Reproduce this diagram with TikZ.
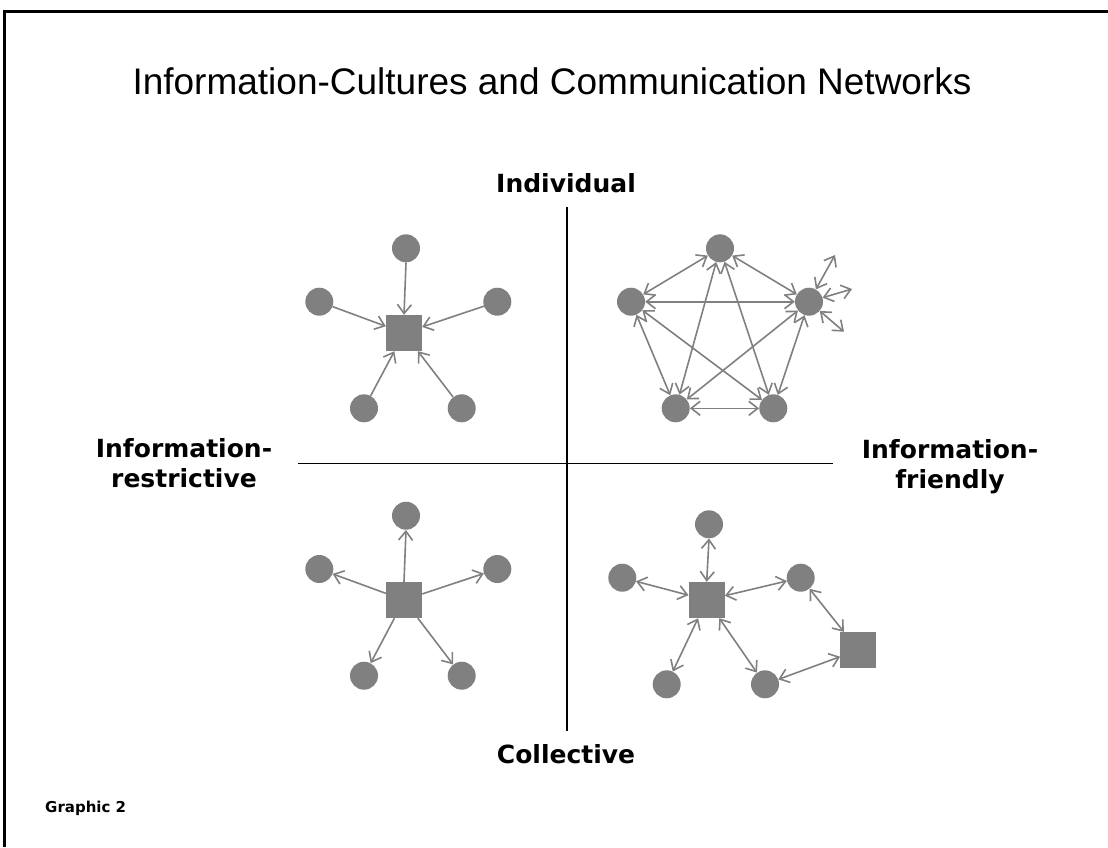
\documentclass[tikz,border=0pt]{standalone}
\usepackage{fontspec}
\setmainfont{Liberation Sans}
\newfontfamily\verd{DejaVu Sans}
\usetikzlibrary{arrows.meta}
\definecolor{netgray}{HTML}{808080}
\begin{document}
\begin{tikzpicture}[x=1pt,y=-1pt,
  circ/.style={circle,fill=netgray,minimum size=28pt,inner sep=0pt},
  sq/.style={rectangle,fill=netgray,minimum size=36pt,inner sep=0pt},
  link/.style={draw=netgray,line width=1.6pt,-{Straight Barb[length=9pt,width=14pt]}},
  dlink/.style={draw=netgray,line width=1.6pt,{Straight Barb[length=9pt,width=14pt]}-{Straight Barb[length=9pt,width=14pt]}},
  lbl/.style={font=\verd\bfseries\fontsize{25}{30}\selectfont,align=center,inner sep=0pt},
  axis/.style={draw=black,line width=1.1pt}]

\useasboundingbox (0,0) rectangle (1108,847);
\fill[white] (0,0) rectangle (1108,847);
\draw[line width=2.2pt] (4.5,847) -- (4.5,11.5) -- (1108,11.5);

% title
\node[font=\fontsize{37}{44}\selectfont,inner sep=0pt,anchor=base] (title) at (552,94) {Information-Cultures and Communication Networks};

% labels
\node[lbl,anchor=base] (ind) at (566,192) {Individual};
\node[lbl,anchor=base] (col) at (566,763) {Collective};
\node[lbl] (restr) at (184,463.5) {Information-\\restrictive};
\node[lbl] (friend) at (950,466.5) {Information-\\friendly};
\node[font=\verd\bfseries\fontsize{15}{18}\selectfont,inner sep=0pt,anchor=base west] (graphic) at (45,812) {Graphic 2};

% axes
\coordinate (vt) at (567,207);
\coordinate (vb) at (567,731);
\coordinate (hl) at (298,463.5);
\coordinate (hr) at (833,463.5);
\draw[axis] (vt) -- (vb);
\draw[axis] (hl) -- (hr);

% top-left quadrant
\node[sq] (a0) at (404,333) {};
\node[circ] (a1) at (406,248.3) {};
\node[circ] (a2) at (319.3,301.7) {};
\node[circ] (a3) at (497.3,301.7) {};
\node[circ] (a4) at (364,408.3) {};
\node[circ] (a5) at (461.7,408.3) {};
\draw[link] (a1.south) -- (a0.north);
\foreach \n in {a2,a3,a4,a5} \draw[link] (\n) -- (a0);

% top-right quadrant
\node[circ] (b1) at (720,248.3) {};
\node[circ] (b2) at (631,301.7) {};
\node[circ] (b3) at (809,301.7) {};
\node[circ] (b4) at (675.7,408.3) {};
\node[circ] (b5) at (773.3,408.3) {};
\draw[dlink] (b1) -- (b2);
\draw[dlink] (b1) -- (b3);
\draw[dlink] (b2) -- (b3);
\draw[dlink] (b2) -- (b4);
\draw[dlink] (b2) -- (b5);
\draw[dlink] (b1) -- (b4);
\draw[dlink] (b1) -- (b5);
\draw[dlink] (b3) -- (b4);
\draw[dlink] (b3) -- (b5);
\draw[dlink] (b4) -- (b5);
\coordinate (e1) at (835,255);
\coordinate (e2) at (852,289);
\coordinate (e3) at (844,331.7);
\draw[dlink] (b3) -- (e1);
\draw[dlink] (b3) -- (e2);
\draw[dlink] (b3) -- (e3);

% bottom-left quadrant
\node[sq] (c0) at (404,600) {};
\node[circ] (c1) at (406,515.7) {};
\node[circ] (c2) at (319.3,569) {};
\node[circ] (c3) at (497.3,569) {};
\node[circ] (c4) at (364,675.7) {};
\node[circ] (c5) at (461.7,675.7) {};
\draw[link] (c0.north) -- (c1.south);
\foreach \n in {c2,c3,c4,c5} \draw[link] (c0) -- (\n);

% bottom-right quadrant
\node[sq] (d0) at (706.7,600) {};
\node[sq] (d6) at (858.3,650) {};
\node[circ] (d1) at (709,524.3) {};
\node[circ] (d2) at (622.3,577.7) {};
\node[circ] (d3) at (800.7,577.7) {};
\node[circ] (d4) at (666.7,684.3) {};
\node[circ] (d5) at (765,684.3) {};
\draw[dlink] (d0.north) -- (d1.south);
\foreach \n in {d2,d3,d4,d5} \draw[dlink] (d0) -- (\n);
\draw[dlink] (d3) -- (d6);
\draw[dlink] (d6) -- (d5);
\end{tikzpicture}
\end{document}
